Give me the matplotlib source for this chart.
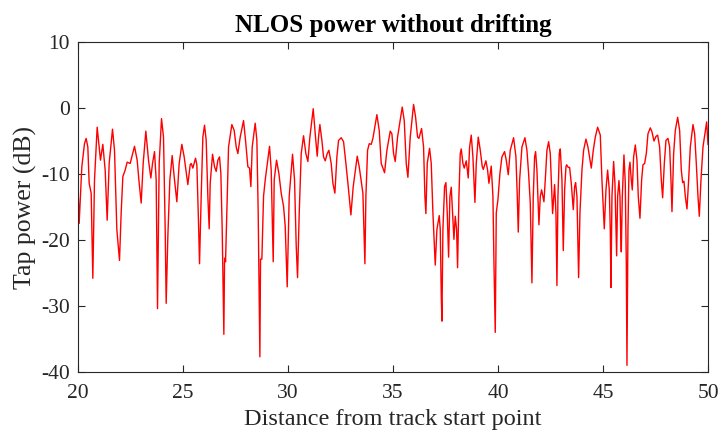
import matplotlib.pyplot as plt

# distance along the track and tap power (dB)
dist = [20.0, 20.061, 20.188, 20.315, 20.395, 20.474, 20.538, 20.633, 20.712, 20.792,
        20.919, 21.014, 21.077, 21.188, 21.300, 21.395, 21.490, 21.649, 21.744, 21.855,
        21.982, 22.061, 22.141, 22.252, 22.347, 22.490, 22.569, 22.696, 22.823, 22.919,
        23.014, 23.109, 23.236, 23.363, 23.474, 23.554, 23.649, 23.728, 23.792, 23.871,
        23.982, 24.077, 24.157, 24.204, 24.284, 24.379, 24.490, 24.585, 24.712, 24.823,
        24.950, 25.061, 25.236, 25.347, 25.395, 25.474, 25.601, 25.665, 25.744, 25.792,
        25.871, 25.950, 26.030, 26.109, 26.188, 26.252, 26.300, 26.411, 26.506, 26.585,
        26.665, 26.744, 26.807, 26.871, 26.919, 26.950, 26.982, 27.014, 27.030, 27.173,
        27.331, 27.442, 27.538, 27.617, 27.728, 27.887, 27.982, 28.093, 28.173, 28.236,
        28.300, 28.442, 28.522, 28.585, 28.665, 28.696, 28.760, 28.839, 28.919, 28.998,
        29.125, 29.204, 29.300, 29.347, 29.458, 29.569, 29.680, 29.792, 29.871, 29.966,
        30.061, 30.220, 30.315, 30.395, 30.458, 30.538, 30.633, 30.744, 30.855, 30.950,
        31.046, 31.204, 31.300, 31.395, 31.458, 31.522, 31.617, 31.696, 31.776, 31.871,
        31.950, 32.061, 32.141, 32.236, 32.331, 32.411, 32.538, 32.649, 32.760, 32.887,
        32.998, 33.109, 33.300, 33.395, 33.490, 33.569, 33.617, 33.665, 33.712, 33.792,
        33.871, 33.966, 34.046, 34.236, 34.347, 34.442, 34.601, 34.712, 34.871, 34.950,
        35.030, 35.109, 35.220, 35.442, 35.538, 35.633, 35.712, 35.823, 35.982, 36.077,
        36.173, 36.236, 36.363, 36.458, 36.522, 36.569, 36.633, 36.744, 36.823, 36.903,
        37.014, 37.093, 37.204, 37.252, 37.300, 37.331, 37.379, 37.458, 37.522, 37.585,
        37.649, 37.712, 37.776, 37.839, 37.903, 37.966, 38.030, 38.077, 38.141, 38.204,
        38.252, 38.331, 38.395, 38.490, 38.585, 38.649, 38.728, 38.807, 38.903, 38.966,
        39.061, 39.157, 39.252, 39.300, 39.427, 39.506, 39.569, 39.680, 39.760, 39.808,
        39.871, 39.919, 39.998, 40.093, 40.188, 40.315, 40.395, 40.490, 40.585, 40.744,
        40.855, 40.919, 40.966, 41.030, 41.141, 41.284, 41.379, 41.458, 41.538, 41.617,
        41.680, 41.744, 41.792, 41.855, 41.950, 42.014, 42.077, 42.141, 42.188, 42.252,
        42.331, 42.411, 42.490, 42.554, 42.601, 42.696, 42.760, 42.807, 42.855, 42.919,
        42.966, 43.046, 43.109, 43.173, 43.236, 43.268, 43.347, 43.411, 43.490, 43.585,
        43.649, 43.696, 43.760, 43.839, 43.903, 43.998, 44.077, 44.188, 44.284, 44.442,
        44.538, 44.633, 44.744, 44.871, 44.950, 45.061, 45.141, 45.220, 45.300, 45.347,
        45.379, 45.427, 45.506, 45.569, 45.617, 45.649, 45.696, 45.760, 45.807, 45.839,
        45.871, 45.919, 45.998, 46.061, 46.109, 46.141, 46.188, 46.236, 46.284, 46.347,
        46.395, 46.458, 46.538, 46.617, 46.680, 46.760, 46.839, 46.903, 46.982, 47.062,
        47.141, 47.252, 47.331, 47.427, 47.522, 47.601, 47.696, 47.776, 47.839, 47.919,
        47.998, 48.093, 48.173, 48.236, 48.284, 48.363, 48.442, 48.554, 48.649, 48.728,
        48.792, 48.855, 48.919, 48.998, 49.077, 49.157, 49.284, 49.363, 49.442, 49.522,
        49.585, 49.665, 49.760, 49.935, 50.0]

power = [-11.1, -17.5, -8.9, -5.4, -4.6, -5.9, -11.4, -12.9, -25.8, -10.9,
         -2.9, -5.9, -7.9, -5.5, -9.4, -17.0, -8.4, -3.2, -6.4, -18.4,
         -23.1, -15.9, -10.4, -9.4, -8.2, -8.4, -7.4, -5.8, -7.9, -11.4,
         -14.4, -8.4, -3.5, -7.9, -10.6, -8.4, -6.6, -10.9, -30.4, -8.4,
         -1.6, -4.4, -18.4, -29.6, -19.4, -10.9, -7.2, -10.4, -14.2, -8.4,
         -5.5, -7.4, -11.6, -8.6, -8.4, -9.1, -7.6, -8.6, -17.4, -23.6,
         -13.4, -4.4, -2.6, -4.9, -13.4, -18.3, -11.4, -7.0, -8.9, -9.6,
         -7.9, -7.4, -9.9, -18.4, -28.4, -34.3, -23.4, -22.7, -23.3, -5.9,
         -2.5, -3.4, -5.9, -6.9, -4.4, -1.9, -4.9, -8.9, -9.1, -11.9,
         -5.9, -2.3, -4.9, -15.9, -37.7, -22.9, -22.9, -13.4, -10.9, -8.9,
         -5.8, -9.4, -23.3, -10.9, -7.9, -9.9, -12.9, -14.9, -17.9, -27.1,
         -13.4, -7.0, -10.9, -20.9, -25.7, -15.9, -6.9, -4.2, -6.9, -8.1,
         -4.4, -0.1, -3.9, -7.3, -4.4, -2.5, -4.9, -7.4, -8.0, -6.9,
         -6.4, -8.4, -11.4, -12.9, -7.4, -4.9, -4.5, -5.1, -8.4, -12.4,
         -16.2, -11.9, -7.3, -8.9, -11.1, -12.9, -18.4, -23.6, -13.4, -6.4,
         -5.4, -5.5, -4.6, -1.0, -3.4, -8.4, -9.8, -6.4, -3.5, -3.9,
         -6.9, -8.1, -4.4, 0.15, -1.9, -8.4, -10.5, -4.4, 0.55, -1.35,
         -4.4, -4.6, -3.1, -5.9, -13.4, -16.0, -8.4, -6.1, -8.4, -15.9,
         -23.8, -18.4, -16.3, -18.4, -28.4, -32.3, -18.4, -11.9, -11.3, -15.9,
         -22.6, -13.4, -12.0, -15.9, -19.9, -16.4, -18.4, -24.2, -13.4, -6.9,
         -6.2, -8.4, -9.1, -8.0, -10.6, -5.9, -4.1, -7.4, -14.3, -8.4,
         -4.4, -6.4, -8.9, -9.3, -8.0, -9.4, -11.4, -8.8, -13.4, -23.4,
         -34.0, -15.9, -13.9, -9.9, -7.4, -6.6, -7.9, -10.1, -6.4, -4.5,
         -7.4, -13.4, -18.8, -10.9, -5.9, -4.5, -6.4, -9.9, -14.4, -26.5,
         -13.4, -7.4, -6.6, -9.4, -17.7, -13.4, -12.4, -13.4, -14.2, -10.9,
         -6.4, -5.1, -6.9, -12.4, -16.0, -11.6, -15.9, -26.9, -13.4, -6.9,
         -6.2, -10.9, -21.6, -12.4, -8.9, -8.6, -9.0, -9.0, -11.4, -15.4,
         -11.9, -11.3, -13.4, -25.7, -15.9, -9.4, -6.4, -4.7, -5.9, -9.1,
         -6.4, -4.4, -2.9, -4.1, -10.9, -18.3, -12.4, -9.4, -12.4, -18.4,
         -27.2, -13.4, -8.1, -11.4, -18.4, -22.4, -13.4, -11.0, -13.4, -18.4,
         -21.8, -13.4, -7.1, -11.4, -23.4, -39.0, -18.4, -9.4, -8.2, -10.9,
         -12.4, -7.4, -5.6, -7.9, -13.4, -16.7, -10.9, -8.6, -8.4, -6.9,
         -3.9, -3.0, -3.6, -5.0, -4.3, -4.1, -5.9, -10.9, -13.6, -8.4,
         -4.9, -4.6, -5.9, -10.9, -15.7, -6.9, -3.4, -1.4, -3.4, -9.4,
         -11.3, -11.1, -13.4, -15.3, -10.9, -5.9, -2.5, -3.9, -8.4, -13.4,
         -16.4, -10.9, -5.9, -2.1, -5.5]

plt.rcParams['font.family'] = 'Liberation Serif'
plt.rcParams['axes.unicode_minus'] = False

fig = plt.figure(figsize=(7.21, 4.34), dpi=100)
ax = fig.add_axes([0.108, 0.143, 0.874, 0.760])

ax.plot(dist, power, color='red', linewidth=1.0)

ax.set_xlim(20, 50)
ax.set_ylim(-40, 10)
ax.set_xticks(range(20, 51, 5))
ax.set_yticks(range(-40, 11, 10))
ax.tick_params(direction='in', top=True, right=True, labelsize=15.5, length=5,
               color='#262626', width=0.8, pad=6, labelcolor='#262626')
ax.tick_params(axis='x', pad=9)
for s in ax.spines.values():
    s.set_color('#262626')
    s.set_linewidth(0.8)

ax.set_title('NLOS power without drifting', fontsize=18, fontweight='bold', pad=7.5)
ax.set_xlabel('Distance from track start point', fontsize=17.5, color='#262626', labelpad=4)
ax.set_ylabel('Tap power (dB)', fontsize=18.5, color='#262626', labelpad=3)

fig.savefig('out.png', dpi=100)
